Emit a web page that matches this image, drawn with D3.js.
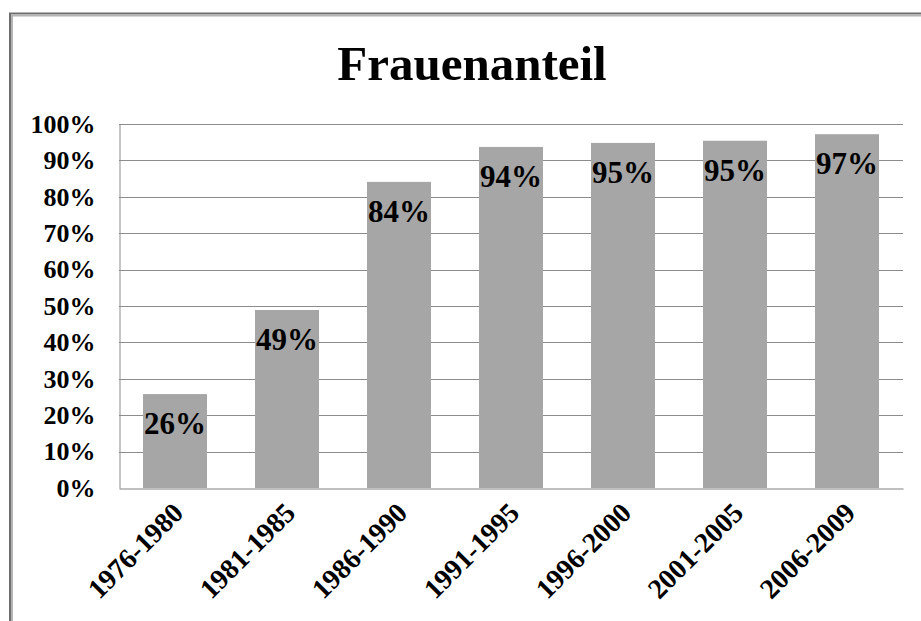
<!DOCTYPE html>
<html>
<head>
<meta charset="utf-8">
<script src="https://cdn.jsdelivr.net/npm/d3@7"></script>
<style>
  html, body { margin: 0; padding: 0; background: #fff; }
  svg { display: block; }
  svg text { font-family: "Liberation Serif", "Times New Roman", serif; font-weight: bold; }
</style>
</head>
<body>
<svg id="chart" width="921" height="621"></svg>
<script>
var title = "Frauenanteil";
var periods = ["1976-1980", "1981-1985", "1986-1990", "1991-1995", "1996-2000", "2001-2005", "2006-2009"];
var shares = [0.258, 0.489, 0.841, 0.937, 0.948, 0.954, 0.972];
var tick_values = [0, 0.1, 0.2, 0.3, 0.4, 0.5, 0.6, 0.7, 0.8, 0.9, 1.0];

var plot_left = 119, plot_right = 903, plot_top = 124, plot_bottom = 488;

var svg = d3.select("svg#chart");

/* outer frame of the chart object, cut off on the right and bottom */
svg.append("rect").attr("x", 10).attr("y", 13.5).attr("width", 950).attr("height", 700)
    .attr("fill", "none").attr("stroke", "#6e6e6e").attr("stroke-width", 2);
svg.append("rect").attr("x", 12).attr("y", 15.5).attr("width", 950).attr("height", 700)
    .attr("fill", "none").attr("stroke", "#b4b4b4").attr("stroke-width", 2);

svg.append("text").attr("x", 472).attr("y", 80).attr("text-anchor", "middle")
    .attr("font-size", 49).attr("fill", "#000").text(title);

var x = d3.scaleBand().domain(periods).range([plot_left, plot_right])
    .paddingInner(0.4286).paddingOuter(0.2143);
var y = d3.scaleLinear().domain([0, 1]).range([plot_bottom, plot_top]);

/* gridlines */
svg.append("g").selectAll("line").data(tick_values.slice(1)).enter().append("line")
    .attr("x1", plot_left).attr("x2", plot_right)
    .attr("y1", function (d) { return Math.round(y(d)) + 0.5; })
    .attr("y2", function (d) { return Math.round(y(d)) + 0.5; })
    .attr("stroke", "#8c8c8c").attr("stroke-width", 1);

/* y axis */
var y_axis = svg.append("g").attr("transform", "translate(" + (plot_left + 0.5) + ",0)")
    .call(d3.axisLeft(y).tickValues(tick_values).tickFormat(d3.format(".0%")).tickSize(0).tickPadding(24));
y_axis.select(".domain").attr("stroke", "#8c8c8c");
y_axis.selectAll("text").attr("font-size", 26).attr("fill", "#000");

/* bars */
svg.append("g").selectAll("rect").data(periods).enter().append("rect")
    .attr("x", function (d) { return x(d); })
    .attr("y", function (d, i) { return y(shares[i]); })
    .attr("width", x.bandwidth())
    .attr("height", function (d, i) { return plot_bottom - y(shares[i]); })
    .attr("fill", "#a6a6a6");

/* x axis */
var x_axis = svg.append("g").attr("transform", "translate(0," + (plot_bottom + 0.5) + ")")
    .call(d3.axisBottom(x).tickSize(0).tickSizeOuter(0));
x_axis.select(".domain").attr("stroke", "#808080");
x_axis.selectAll("text").attr("font-size", 28).attr("fill", "#000")
    .attr("text-anchor", "end").attr("dy", 0).attr("y", 0)
    .attr("transform", "translate(10,26) rotate(-45)");

/* value labels */
svg.append("g").selectAll("text").data(periods).enter().append("text")
    .attr("x", function (d) { return x(d) + x.bandwidth() / 2; })
    .attr("y", function (d, i) { return y(shares[i]) + 40; })
    .attr("text-anchor", "middle").attr("font-size", 31).attr("fill", "#000")
    .text(function (d, i) { return Math.round(shares[i] * 100) + "%"; });
</script>
</body>
</html>
